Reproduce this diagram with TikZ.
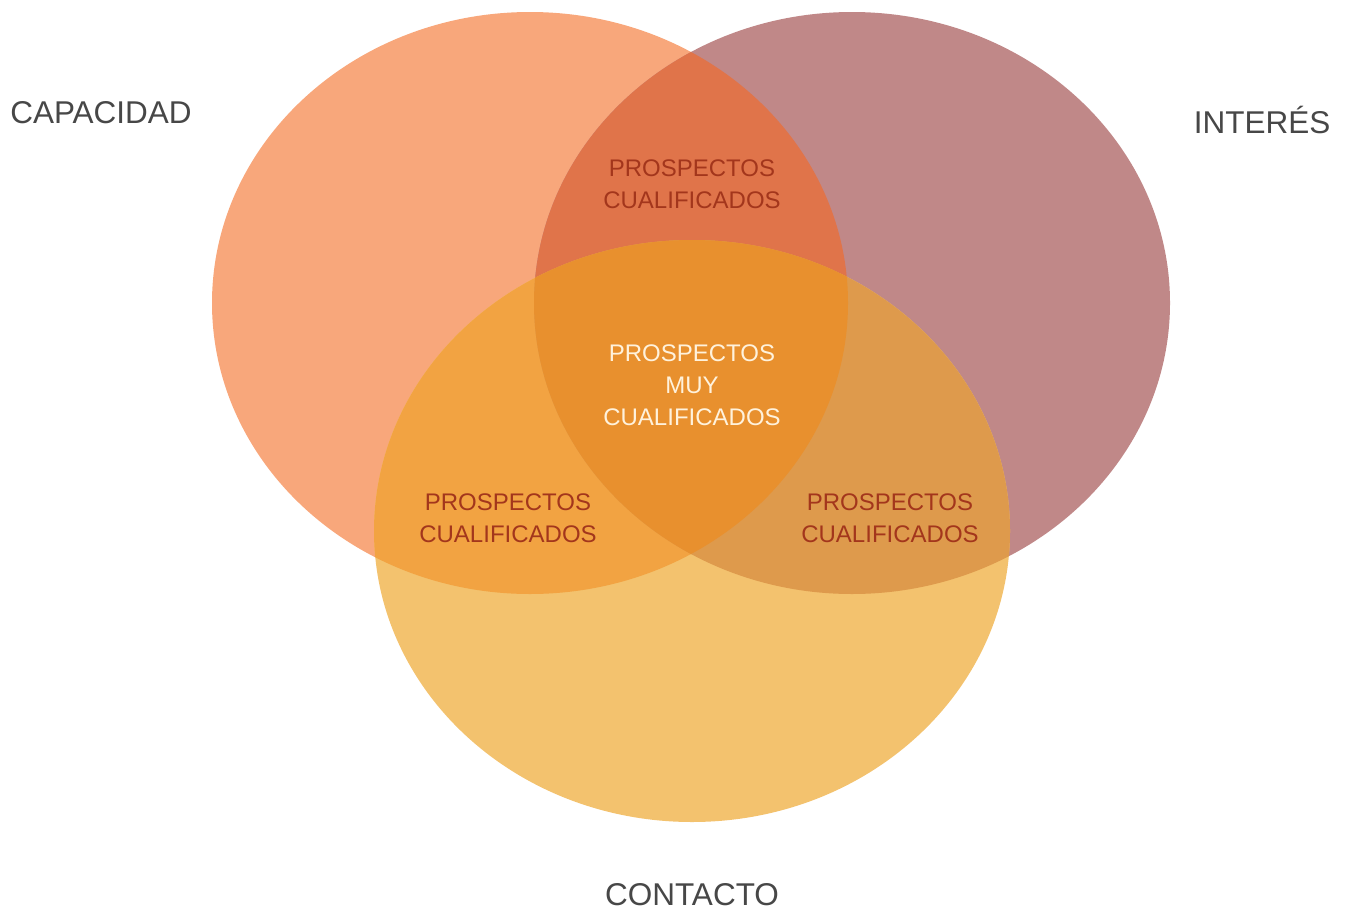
\documentclass[tikz,border=0pt]{standalone}
\usepackage{fontspec}
\setmainfont{Liberation Sans}

\definecolor{capa}{HTML}{F8A77B}
\definecolor{inte}{HTML}{C08888}
\definecolor{cont}{HTML}{F3C26E}
\definecolor{capaInte}{HTML}{E0744A}
\definecolor{capaCont}{HTML}{F2A342}
\definecolor{inteCont}{HTML}{DE9A4C}
\definecolor{tous}{HTML}{E8902E}
\definecolor{texteZone}{HTML}{A3361C}
\definecolor{texteCentre}{HTML}{FFF2DC}

\def\ellCapa{(530,303) ellipse [x radius=318, y radius=291]}
\def\ellInte{(852,303) ellipse [x radius=318, y radius=291]}
\def\ellCont{(692,531) ellipse [x radius=318, y radius=291]}

\begin{document}
\begin{tikzpicture}[x=1pt,y=-1pt,
    titre/.style={text=black!72, font=\fontsize{31.5}{36}\selectfont},
    zone/.style={text=texteZone, align=center, font=\fontsize{24}{32}\selectfont},
    centre/.style={zone, text=texteCentre}]
   \useasboundingbox (0,0) rectangle (1346,910);
   % les trois ensembles
   \fill[capa] \ellCapa;
   \fill[inte] \ellInte;
   \fill[cont] \ellCont;
   % intersections deux a deux
   \begin{scope}
     \clip \ellCapa;
     \fill[capaInte] \ellInte;
     \fill[capaCont] \ellCont;
   \end{scope}
   \begin{scope}
     \clip \ellInte;
     \fill[inteCont] \ellCont;
   \end{scope}
   \begin{scope}
     \clip \ellCapa;
     \clip \ellInte;
     \fill[tous] \ellCont;
   \end{scope}
   % textes
   \node[titre] (capacidad) at (101,113) {CAPACIDAD};
   \node[titre] (interes) at (1262,120) {INTERÉS};
   \node[titre] (contacto) at (692,895) {CONTACTO};
   \node[zone] (haut) at (692,184) {PROSPECTOS\\CUALIFICADOS};
   \node[centre] (milieu) at (692,385) {PROSPECTOS\\MUY\\CUALIFICADOS};
   \node[zone] (gauche) at (508,518) {PROSPECTOS\\CUALIFICADOS};
   \node[zone] (droite) at (890,518) {PROSPECTOS\\CUALIFICADOS};
\end{tikzpicture}
\end{document}
